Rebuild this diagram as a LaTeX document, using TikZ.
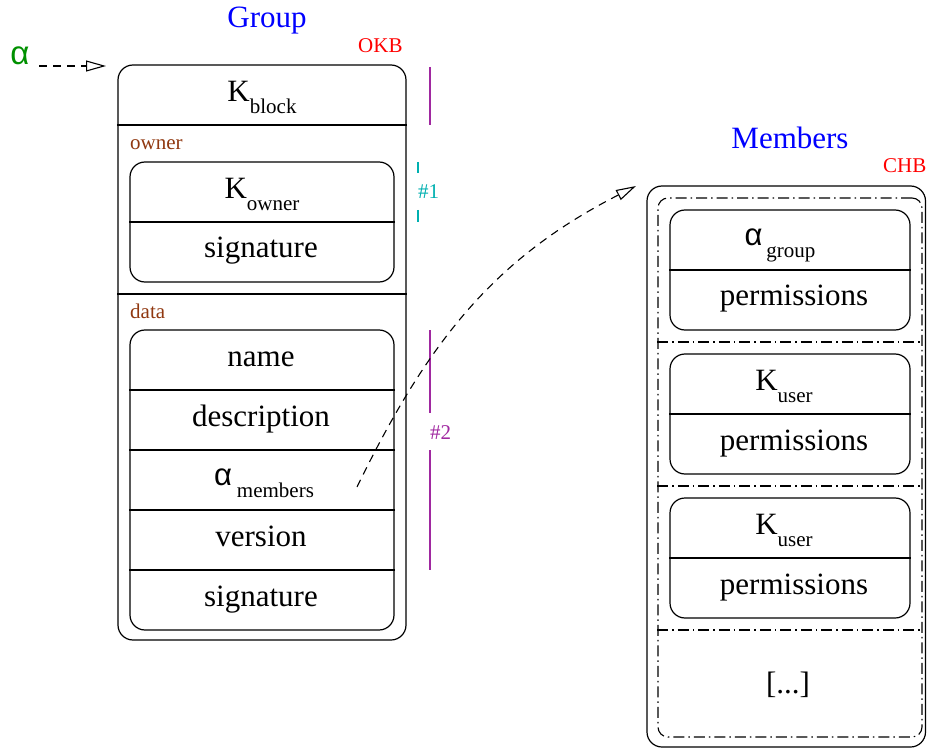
\documentclass[tikz,border=0pt]{standalone}
\usepackage{fontspec}
\setmainfont{Liberation Serif}
\newfontfamily\greekfont{Liberation Sans}
\usetikzlibrary{arrows.meta}
\definecolor{figblue}{RGB}{0,0,255}
\definecolor{figred}{RGB}{255,0,0}
\definecolor{figgreen}{RGB}{0,144,0}
\definecolor{figbrown}{RGB}{144,56,16}
\definecolor{figmag}{RGB}{160,40,160}
\definecolor{figcyan}{RGB}{0,176,176}
\newcommand\lowsub[1]{\raisebox{-12pt}{\fontsize{21}{24}\selectfont #1}}
\newcommand\galpha{{\greekfont α}}
\tikzset{
  box/.style={draw, line width=1.2pt, rounded corners=15pt, inner sep=0pt, minimum width=#1},
  box/.default=264pt,
  dbox/.style={draw, line width=1.1pt, rounded corners=10pt, inner sep=0pt,
    dash pattern=on 11pt off 4pt on 1.5pt off 4pt},
  sep/.style={line width=1.2pt},
  dsep/.style={line width=1.1pt, dash pattern=on 11pt off 4pt on 1.5pt off 4pt},
  txt/.style={anchor=base, inner sep=0pt, font=\fontsize{31}{36}\selectfont},
  small/.style={anchor=base west, inner sep=0pt, font=\fontsize{21}{24}\selectfont},
  ttl/.style={anchor=base, inner sep=0pt, text=figblue, font=\fontsize{31}{36}\selectfont},
  ptr/.style={line width=1.1pt, dash pattern=on 8pt off 6pt,
    -{Triangle[open,length=20pt,width=11pt,line width=1.1pt]}},
  mbar/.style={line width=1.3pt, draw=figmag},
  cbar/.style={line width=1.3pt, draw=figcyan},
}
\begin{document}
\begin{tikzpicture}[x=1pt,y=-1pt]
\useasboundingbox (0,0) rectangle (927,749);

% ---------- Group ----------
\node[ttl] (gtitle) at (267,28) {Group};
\node[small, text=figred] (okb) at (358,53) {OKB};
\node[anchor=base, inner sep=0pt, text=figgreen, font=\fontsize{33}{38}\selectfont] (alpha) at (20,65) {\galpha};
\coordinate (gin) at (106,66);
\draw[ptr] (39,66) -- (gin);

\node[box=288pt, minimum height=575pt] (group) at (262,352.5) {};
\draw[sep] (group.west |- 0,125) -- (group.east |- 0,125);
\draw[sep] (group.west |- 0,294) -- (group.east |- 0,294);
\node[txt] (kblock) at (262,102) {K\lowsub{block}};

\node[small, text=figbrown] (ownerlbl) at (130,150) {owner};
\node[box, minimum height=120pt] (owner) at (262,222) {};
\draw[sep] (owner.west |- 0,222) -- (owner.east |- 0,222);
\node[txt] (kowner) at (262,199) {K\lowsub{owner}};
\node[txt] (osig) at (261,258) {signature};

\node[small, text=figbrown] (datalbl) at (130,318) {data};
\node[box, minimum height=300pt] (data) at (262,480) {};
\foreach \yy in {390,450,510,570}
  \draw[sep] (data.west |- 0,\yy) -- (data.east |- 0,\yy);
\node[txt] (name) at (261,366) {name};
\node[txt] (desc) at (261,426) {description};
\node[txt] (amem) at (264,485) {\galpha\kern5pt\lowsub{members}};
\node[txt] (version) at (261,546) {version};
\node[txt] (dsig) at (261,606) {signature};

% side bars
\draw[mbar] (430,67) -- (430,125);
\draw[cbar] (418,162) -- (418,173);
\draw[cbar] (418,210) -- (418,222);
\node[small, text=figcyan] (h1) at (418,198) {\#1};
\draw[mbar] (430,330) -- (430,413);
\node[small, text=figmag] (h2) at (430,439) {\#2};
\draw[mbar] (430,450) -- (430,570);

% ---------- Members ----------
\node[ttl] (mtitle) at (790,149) {Members};
\node[small, text=figred] (chb) at (883,173) {CHB};
\node[box=278.5pt, minimum height=561pt] (members) at (786.25,466.5) {};
\node[dbox, minimum width=264pt, minimum height=539pt] (list) at (790,467.5) {};
\foreach \yy in {342,486,630}
  \draw[dsep] (list.west |- 0,\yy) -- (list.east |- 0,\yy);

\node[box=240pt, minimum height=120pt] (e1) at (790,270) {};
\draw[sep] (e1.west |- 0,270) -- (e1.east |- 0,270);
\node[txt] (agroup) at (780,245) {\galpha\kern4pt\lowsub{group}};
\node[txt] (p1) at (794,305) {permissions};

\node[box=240pt, minimum height=120pt] (e2) at (790,414) {};
\draw[sep] (e2.west |- 0,414) -- (e2.east |- 0,414);
\node[txt] (ku1) at (784,390) {K\lowsub{user}};
\node[txt] (p2) at (794,450) {permissions};

\node[box=240pt, minimum height=120pt] (e3) at (790,558) {};
\draw[sep] (e3.west |- 0,558) -- (e3.east |- 0,558);
\node[txt] (ku2) at (784,534) {K\lowsub{user}};
\node[txt] (p3) at (794,594) {permissions};

\node[txt] (more) at (788,693) {[...]};

% ---------- pointer ----------
\coordinate (pstart) at (357,487);
\coordinate (pend) at (636,186);
\draw[ptr] (pstart) to[out=64,in=207] (pend);
\end{tikzpicture}
\end{document}
